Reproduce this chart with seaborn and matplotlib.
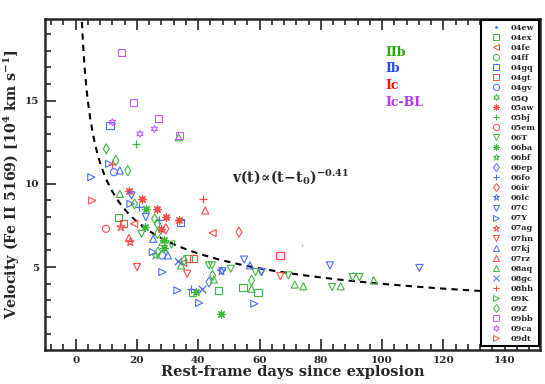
import numpy as np
import pandas as pd
import matplotlib
matplotlib.use("Agg")
import matplotlib.pyplot as plt
from matplotlib.lines import Line2D
import seaborn as sns

# colours per SN type
green = '#3fb83f'
blue = '#4a6cff'
red = '#ff4a4a'
purple = '#c85cff'

# name, colour, marker
sn_names = ['04ew', '04ex', '04fe', '04ff', '04gq', '04gt', '04gv', '05Q', '05aw', '05bj',
            '05em', '06T', '06ba', '06bf', '06ep', '06fo', '06ir', '06lc', '07C', '07Y',
            '07ag', '07hn', '07kj', '07rz', '08aq', '08gc', '08hh', '09K', '09Z', '09bb',
            '09ca', '09dt']
sn_colors = [blue, green, red, green, blue, red, blue, green, red, green,
             red, green, green, green, blue, blue, red, blue, blue, blue,
             red, red, blue, red, green, blue, red, green, green, purple,
             purple, red]
sn_markers = ['.', 's', '<', 'o', 's', 's', 'o', (6, 1, 0), (8, 2, 0), '+',
              'o', 'v', (8, 2, 0), '*', 'd', '+', 'd', '*', 'v', '>',
              '*', 'v', '^', '^', '^', 'x', '+', '>', 'd', 's',
              (6, 1, 0), '>']

# epochs (days) and velocities (10^4 km/s)
days = {
    '04ew': [41.4, 73.9, 90.6, 96.6],
    '04ex': [14.1, 36.9, 38.0, 46.7, 54.6, 59.5],
    '04fe': [19.1, 44.7, 35.1],
    '04gq': [11.2, 34.3],
    '04gt': [15.5, 38.6, 66.7],
    '04gv': [12.5, 28.2],
    '05aw': [17.4, 21.7, 26.7, 29.6, 33.6, 28.0],
    '05bj': [19.8],
    '05em': [9.9],
    '06T': [21.5, 31.3, 43.5, 44.5, 50.6, 58.7, 60.5, 69.4, 83.7, 90.4, 92.6],
    '06ba': [22.9, 22.7, 28.8, 28.9, 39.2, 47.4],
    '06bf': [26.1],
    '06ep': [43.5],
    '06fo': [20.6, 27.1, 37.5],
    '06ir': [29.4, 53.3],
    '06lc': [47.6],
    '07C': [18.2, 22.9, 47.9, 55.0, 60.7, 83.0, 112.2],
    '07Y': [5.1, 10.9, 17.9, 25.2, 28.3, 33.2, 40.3, 58.3],
    '07ag': [14.8, 17.8],
    '07hn': [20.0, 36.4, 66.8],
    '07kj': [14.4, 25.3, 30.1, 56.9],
    '07rz': [17.4, 42.3],
    '08aq': [14.4, 28.3, 33.6, 34.4, 45.1, 57.4, 71.5, 74.3, 86.5, 97.3],
    '08gc': [33.3, 41.3],
    '08hh': [12.0, 41.7],
    '09Z': [10.0, 13.1, 17.0, 19.2, 25.8, 26.7, 26.7, 26.9, 35.4, 44.7, 57.4],
    '09bb': [14.9, 18.8, 26.9, 33.9],
    '09ca': [12.0, 21.0, 25.7],
    '09dt': [5.4],
}
vels = {
    '04ew': [4.6, 6.3, 4.7, 4.4],
    '04ex': [8.0, 5.5, 3.5, 3.6, 3.8, 3.5],
    '04fe': [7.6, 7.05, 5.25],
    '04gq': [13.5, 7.7],
    '04gt': [7.6, 5.5, 5.7],
    '04gv': [10.7, 5.7],
    '05aw': [9.6, 9.1, 8.5, 8.0, 7.8, 7.3],
    '05bj': [12.4],
    '05em': [7.3],
    '06T': [7.0, 6.35, 5.1, 5.1, 4.9, 4.7, 4.7, 4.5, 3.8, 4.4, 4.4],
    '06ba': [8.5, 7.4, 6.6, 6.15, 3.5, 2.2],
    '06bf': [5.7],
    '06ep': [4.1],
    '06fo': [8.6, 7.8, 3.7],
    '06ir': [7.3, 7.1],
    '06lc': [4.75],
    '07C': [9.3, 8.0, 4.75, 5.45, 4.7, 5.1, 4.95],
    '07Y': [10.4, 11.2, 8.8, 5.9, 4.7, 3.6, 2.85, 2.8],
    '07ag': [7.4, 6.5],
    '07hn': [5.0, 4.6, 4.45],
    '07kj': [10.8, 6.7, 5.7, 5.1],
    '07rz': [6.75, 8.4],
    '08aq': [9.4, 6.5, 12.8, 5.1, 4.25, 3.7, 3.95, 3.85, 3.85, 4.2],
    '08gc': [5.35, 3.7],
    '08hh': [11.2, 9.1],
    '09Z': [12.1, 11.4, 10.8, 8.8, 7.9, 7.6, 7.0, 5.9, 5.4, 4.5, 4.2],
    '09bb': [17.9, 14.9, 13.9, 12.9],
    '09ca': [13.7, 13.0, 13.3],
    '09dt': [9.0],
}

# power-law fit v ~ (t - t0)^-0.41
fit_norm = 26.4
fit_index = -0.41
fit_t0 = 0.0

type_names = ['IIb', 'Ib', 'Ic', 'Ic-BL']
type_colors = ['#22aa00', '#2244ff', '#ff1111', '#bb33ff']

sns.set_style('ticks')
plt.rcParams['font.family'] = ['DejaVu Serif']
plt.rcParams['font.weight'] = 'bold'
plt.rcParams['mathtext.fontset'] = 'dejavuserif'

fig = plt.figure(figsize=(5.45, 3.84), dpi=100)
ax = fig.add_axes([0.0826, 0.0885, 0.908, 0.862])

line_markers = ['.', '+', 'x', (8, 2, 0)]
for name, col, mk in zip(sn_names, sn_colors, sn_markers):
    if name not in days:
        continue
    df = pd.DataFrame({'day': days[name], 'vel': vels[name]})
    if mk in line_markers:
        size = 12 if mk == '.' else 28
        sns.scatterplot(data=df, x='day', y='vel', marker=mk, color=col,
                        s=size, linewidth=0.9, ax=ax, zorder=3)
    else:
        size = 38 if mk == '*' else 26
        sns.scatterplot(data=df, x='day', y='vel', marker=mk, color=col,
                        facecolor='none', edgecolor=col, s=size,
                        linewidth=0.8, ax=ax, zorder=3)

t = np.linspace(1.0, 140.0, 400)
fit = pd.DataFrame({'t': t, 'v': fit_norm * (t - fit_t0) ** fit_index})
sns.lineplot(data=fit, x='t', y='v', color='black', linestyle='--',
             linewidth=1.5, ax=ax, zorder=2)
ax.get_lines()[-1].set_dashes((3, 2.5))

ax.text(51, 10.4, r'$\mathbf{v(t)\!\propto\!(t\!-\!t_0)^{-0.41}}$',
        fontsize=10, va='center', ha='left')

for i, (tn, tc) in enumerate(zip(type_names, type_colors)):
    ax.text(101, 17.9 - 1.0 * i, tn, color=tc, fontsize=9,
            fontweight='bold', va='center', ha='left')

ax.set_xlim(-10, 151.5)
ax.set_ylim(0.02, 19.9)
ax.set_xticks(np.arange(0, 141, 20))
ax.set_xticks(np.arange(-8, 151, 4), minor=True)
ax.set_yticks([5, 10, 15])
ax.set_yticks(np.arange(1, 20, 1), minor=True)
ax.tick_params(which='both', direction='in', top=True, right=True, width=1.2,
               labelsize=7.5, pad=4)
ax.tick_params(which='major', length=8)
ax.tick_params(which='minor', length=4)
for lab in ax.get_xticklabels() + ax.get_yticklabels():
    lab.set_fontweight('bold')
for sp in ax.spines.values():
    sp.set_linewidth(1.8)

ax.set_xlabel('Rest-frame days since explosion', fontsize=10.5,
              fontweight='bold', labelpad=0)
ax.set_ylabel(r'Velocity (Fe II 5169) [10$^{\mathbf{4}}$ km s$^{\mathbf{-1}}$]',
              fontsize=10.3, fontweight='bold', labelpad=2)

handles = []
for name, col, mk in zip(sn_names, sn_colors, sn_markers):
    filled = mk in line_markers
    h = Line2D([], [], linestyle='none', marker=mk, color=col,
               markerfacecolor=col if filled else 'none',
               markeredgecolor=col, markersize=2.5 if mk == '.' else 4.5,
               markeredgewidth=0.7, label=name)
    handles.append(h)
leg = ax.legend(handles=handles, loc='upper right', fontsize=5.9,
                labelspacing=0.25, handlelength=3.0, handletextpad=0.25,
                borderpad=0.4, borderaxespad=0.15, frameon=True,
                fancybox=False, framealpha=1)
leg.get_frame().set_edgecolor('black')
leg.get_frame().set_linewidth(1.5)
for txt in leg.get_texts():
    txt.set_fontweight('bold')

fig.savefig('out.png', dpi=100)
